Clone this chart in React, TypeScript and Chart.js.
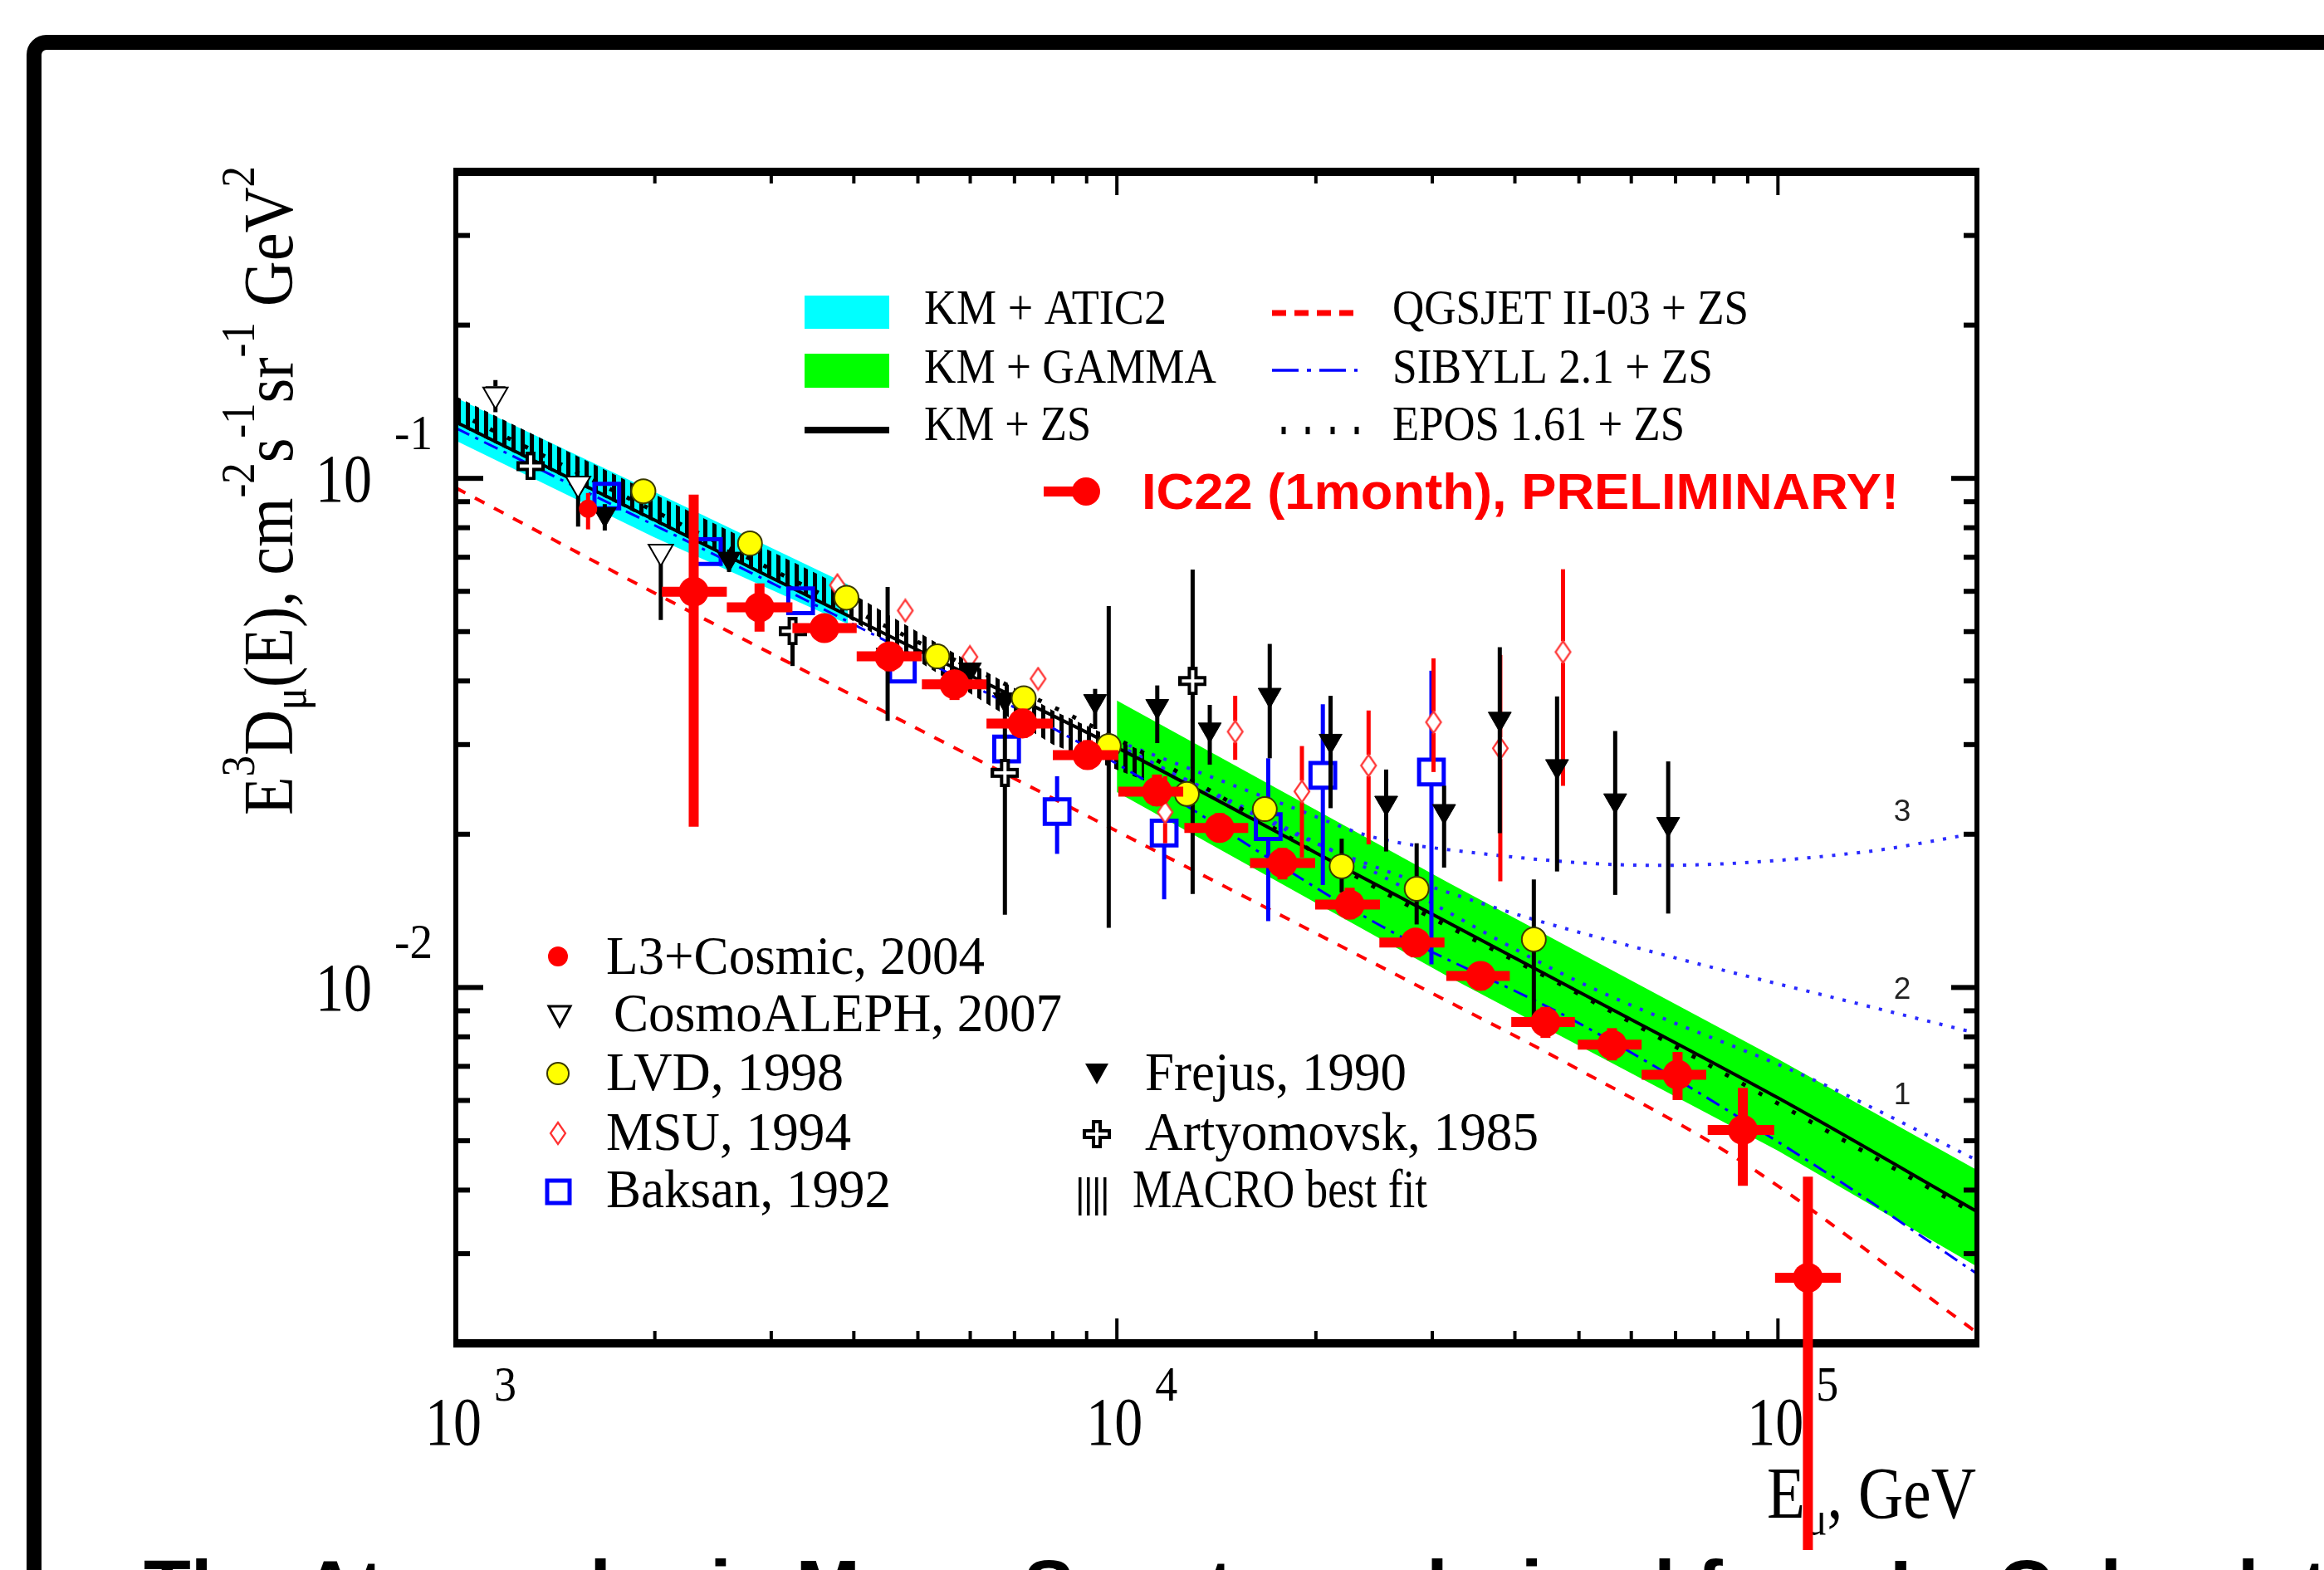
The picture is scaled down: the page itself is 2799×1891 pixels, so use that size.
import React, { useEffect, useRef } from 'react';
import { Chart, registerables } from 'chart.js';

Chart.register(...registerables);

const SERIF = '"Liberation Serif", "DejaVu Serif", serif';
const SANS = '"Liberation Sans", Arial, sans-serif';

// ---------------- axes ----------------
const xMin = 1000;
const xMax = 200000;
const yMin = 0.002;
const yMax = 0.4;
const xMajorTicks = [1000, 10000, 100000];
const xMajorExp = ['3', '4', '5'];
const yMajorTicks = [0.1, 0.01];
const yMajorExp = ['-1', '-2'];

// ---------------- model bands / curves ----------------
const kmAtic2E = [1000, 2000, 3920];
const kmAtic2Hi = [0.144, 0.094, 0.0619];
const kmAtic2Lo = [0.1186, 0.0765, 0.0517];

const kmGammaE = [10000, 31623, 100000, 200000];
const kmGammaHi = [0.0366, 0.0161, 0.00724, 0.00438];
const kmGammaLo = [0.0242, 0.01053, 0.00478, 0.00283];

const macroE = [1000, 2000, 3600, 8000, 11000];
const macroHi = [0.145, 0.093, 0.064, 0.035, 0.029];
const macroLo = [0.128, 0.082, 0.057, 0.030, 0.0255];

const kmZsE = [1000, 2000, 3162, 5000, 10000, 20000, 31623, 50000, 100000, 200000];
const kmZsFlux = [0.129, 0.0828, 0.0617, 0.046, 0.0296, 0.01839, 0.01343, 0.0098, 0.00607, 0.00363];

const qgsE = [1000, 2000, 5700, 28000, 51000, 87000, 200000];
const qgsFlux = [0.0958, 0.0595, 0.0295, 0.0102, 0.0068, 0.0046, 0.0021];

const sibE = [1000, 3900, 10000, 25000, 50000, 113000, 200000];
const sibFlux = [0.1255, 0.0525, 0.0275, 0.01325, 0.00851, 0.0045, 0.00274];

const eposE = [1000, 5000, 10700, 25600, 50800, 200000];
const eposFlux = [0.135, 0.0477, 0.0294, 0.01528, 0.0096, 0.00358];

const prompt1E = [10000, 24200, 49900, 114600, 200000];
const prompt1Flux = [0.0298, 0.017, 0.01027, 0.00654, 0.00458];
const prompt2E = [10000, 20000, 37400, 66700, 134600, 200000];
const prompt2Flux = [0.03, 0.0192, 0.01434, 0.01162, 0.00924, 0.00813];
const prompt3E = [10000, 18700, 24200, 32300, 65600, 135000, 200000];
const prompt3Flux = [0.0305, 0.0224, 0.0198, 0.0186, 0.01737, 0.01846, 0.0201];

// ---------------- measurements ----------------
const ic22E = [2290, 2880, 3610, 4530, 5680, 7200, 9030, 11500, 14300, 17800, 22500, 28300, 35500, 44500, 56100, 70500, 88500, 111000];
const ic22Flux = [0.0599, 0.0558, 0.0508, 0.0447, 0.0394, 0.033, 0.0286, 0.02425, 0.02057, 0.01756, 0.01455, 0.01225, 0.01054, 0.00855, 0.00772, 0.00674, 0.00525, 0.00269];
const ic22Lo = [0.0207, 0.05, 0.048, 0.0418, 0.0367, 0.0309, 0.0268, 0.0227, 0.0194, 0.0163, 0.01361, 0.01146, 0.00986, 0.00796, 0.00719, 0.00601, 0.00408, 0.000785];
const ic22Hi = [0.0929, 0.0622, 0.0538, 0.0475, 0.0414, 0.0353, 0.0306, 0.0262, 0.022, 0.0188, 0.0157, 0.01302, 0.0112, 0.00916, 0.00832, 0.00747, 0.00635, 0.00425];
const ic22ELo = [2050, 2570, 3230, 4040, 5070, 6350, 8000, 10050, 12650, 15900, 19950, 24950, 31500, 39500, 49800, 62200, 78300, 99000];
const ic22EHi = [2570, 3230, 4040, 5070, 6350, 8000, 10050, 12600, 15800, 19950, 25000, 31300, 39300, 49300, 62200, 77900, 98700, 124500];

const l3E = [1585];
const l3Flux = [0.0872];
const l3Lo = [0.0794];
const l3Hi = [0.0936];

const cosmoE = [1148, 1531, 2042];
const cosmoFlux = [0.1461, 0.0977, 0.0718];
const cosmoLo = [0.1349, 0.0804, 0.0527];
const cosmoHi = [0.156, 0.1012, 0.0738];

const lvdE = [1922, 2786, 3899, 5350, 7230, 9720, 12760, 16740, 21880, 28410, 42730];
const lvdFlux = [0.0943, 0.0745, 0.0583, 0.0447, 0.037, 0.0298, 0.024, 0.0224, 0.0173, 0.01563, 0.01243];
const lvdLo = [null, null, null, null, null, 0.0131, null, null, 0.01537, 0.0133, 0.0087];
const lvdHi = [null, null, null, null, null, 0.0561, null, null, 0.0196, 0.0192, 0.0163];

const msuE = [3777, 4786, 5993, 7600, 11830, 15100, 19050, 24030, 30130, 38020, 47300];
const msuFlux = [0.0617, 0.055, 0.0446, 0.0404, 0.0221, 0.0318, 0.02427, 0.02729, 0.0332, 0.0295, 0.0456];
const msuLo = [null, null, null, 0.0386, 0.0192, 0.028, 0.018, 0.0191, 0.0265, 0.01617, 0.0249];
const msuHi = [null, null, null, 0.0423, 0.026, 0.0374, 0.0298, 0.035, 0.0443, 0.045, 0.0663];

const baksanE = [1692, 2410, 3323, 4737, 6810, 8120, 11790, 16940, 20490, 29910];
const baksanFlux = [0.0923, 0.0718, 0.0575, 0.0422, 0.0294, 0.02216, 0.0201, 0.0207, 0.0261, 0.0265];
const baksanLo = [null, null, null, null, null, 0.0183, 0.0149, 0.0135, 0.0159, 0.0111];
const baksanHi = [null, null, null, null, null, 0.026, 0.0227, 0.0282, 0.036, 0.0419];

const frejusE = [1680, 2590, 4500, 5993, 6767, 9270, 11510, 13820, 17030, 21050, 25550, 31260, 37950, 46330, 56730, 68230];
const frejusFlux = [0.085, 0.0695, 0.045, 0.0421, 0.0368, 0.0365, 0.0357, 0.0321, 0.03755, 0.0305, 0.02305, 0.0222, 0.0337, 0.0272, 0.0233, 0.02094];
const frejusLo = [0.079, 0.0655, 0.0334, null, null, 0.0322, 0.0302, 0.0274, 0.0282, 0.0225, 0.0185, 0.0172, 0.0201, 0.0169, 0.0152, 0.01397];
const frejusHi = [0.089, 0.0725, 0.0612, null, null, 0.0386, 0.0392, 0.0359, 0.0473, 0.0374, 0.0268, 0.0249, 0.0466, 0.0373, 0.0319, 0.0278];

const artE = [1297, 3231, 6770, 13020];
const artFlux = [0.1057, 0.0501, 0.0264, 0.04];
const artLo = [null, 0.0428, 0.0139, 0.01526];
const artHi = [null, 0.0532, 0.0373, 0.0662];

// ---------------- helpers ----------------
const pts = (xs: number[], ys: number[]) => xs.map((x, i) => ({ x, y: ys[i] }));

type ErrSpec = {
  xs: number[]; ys: number[];
  lo?: (number | null)[]; hi?: (number | null)[];
  xlo?: number[]; xhi?: number[];
  color: string; width: number; gap?: number; cap?: number; top?: boolean;
};

function drawErr(chart: any, s: ErrSpec) {
  const ctx = chart.ctx;
  const xs = chart.scales.x;
  const ys = chart.scales.y;
  ctx.save();
  ctx.strokeStyle = s.color;
  ctx.lineWidth = s.width;
  ctx.lineCap = 'butt';
  for (let i = 0; i < s.xs.length; i++) {
    const px = xs.getPixelForValue(s.xs[i]);
    const py = ys.getPixelForValue(s.ys[i]);
    const g = s.gap || 0;
    const lo = s.lo ? s.lo[i] : null;
    const hi = s.hi ? s.hi[i] : null;
    if (hi != null) {
      const ph = ys.getPixelForValue(hi);
      if (ph < py - g) {
        ctx.beginPath(); ctx.moveTo(px, ph); ctx.lineTo(px, py - g); ctx.stroke();
        if (s.cap) { ctx.beginPath(); ctx.moveTo(px - s.cap / 2, ph + 10); ctx.lineTo(px + s.cap / 2, ph + 10); ctx.stroke(); }
      }
    }
    if (lo != null) {
      const pl = ys.getPixelForValue(lo);
      if (pl > py + g) { ctx.beginPath(); ctx.moveTo(px, py + g); ctx.lineTo(px, pl); ctx.stroke(); }
    }
    if (s.xlo && s.xhi) {
      const pa = xs.getPixelForValue(s.xlo[i]);
      const pb = xs.getPixelForValue(s.xhi[i]);
      ctx.beginPath(); ctx.moveTo(pa, py); ctx.lineTo(pb, py); ctx.stroke();
    }
  }
  ctx.restore();
}

function drawScaled(ctx: CanvasRenderingContext2D, text: string, x: number, y: number, font: string, width: number, align: 'left' | 'center' | 'right' = 'left') {
  ctx.font = font;
  const w = ctx.measureText(text).width;
  let x0 = x;
  if (align === 'center') x0 = x - width / 2;
  if (align === 'right') x0 = x - width;
  ctx.save();
  ctx.translate(x0, y);
  ctx.scale(width / w, 1);
  ctx.textAlign = 'left';
  ctx.textBaseline = 'alphabetic';
  ctx.fillText(text, 0, 0);
  ctx.restore();
}

type Seg = [string, number, number];
function drawRich(ctx: CanvasRenderingContext2D, segs: Seg[], x: number, y: number, length: number, rot: number, family: string) {
  let total = 0;
  const ws = segs.map(([t, s]) => { ctx.font = `${s}px ${family}`; const w = ctx.measureText(t).width; total += w; return w; });
  ctx.save();
  ctx.translate(x, y);
  ctx.rotate(rot);
  ctx.scale(length / total, 1);
  ctx.textAlign = 'left';
  ctx.textBaseline = 'alphabetic';
  let cx = 0;
  segs.forEach(([t, s, dy], i) => { ctx.font = `${s}px ${family}`; ctx.fillText(t, cx, dy); cx += ws[i]; });
  ctx.restore();
}

function makeCross() {
  const c = document.createElement('canvas');
  c.width = 34; c.height = 34;
  const g = c.getContext('2d')!;
  g.fillStyle = '#000';
  g.fillRect(11, 0, 12, 34);
  g.fillRect(0, 11, 34, 12);
  g.fillStyle = '#fff';
  g.fillRect(15, 4, 4, 26);
  g.fillRect(4, 15, 26, 4);
  return c;
}

function makeDiamond() {
  const c = document.createElement('canvas');
  c.width = 22; c.height = 30;
  const g = c.getContext('2d')!;
  g.beginPath();
  g.moveTo(11, 2); g.lineTo(20, 15); g.lineTo(11, 28); g.lineTo(2, 15); g.closePath();
  g.fillStyle = '#fff'; g.fill();
  g.strokeStyle = '#ff3030'; g.lineWidth = 2.2; g.stroke();
  return c;
}

export default function App() {
  const ref = useRef<HTMLCanvasElement>(null);

  useEffect(() => {
    const canvas = ref.current!;
    const cross = makeCross();
    const diamond = makeDiamond();
    const pc = document.createElement('canvas');
    pc.width = 11; pc.height = 11;
    const pg = pc.getContext('2d')!;
    pg.fillStyle = '#000';
    pg.fillRect(0, 0, 5, 11);
    const hatch = canvas.getContext('2d')!.createPattern(pc, 'repeat');

    const errs: Record<string, ErrSpec> = {
      'L3+Cosmic, 2004': { xs: l3E, ys: l3Flux, lo: l3Lo, hi: l3Hi, color: '#ff0000', width: 5 },
      'CosmoALEPH, 2007': { xs: cosmoE, ys: cosmoFlux, lo: cosmoLo, hi: cosmoHi, color: '#000', width: 5, cap: 24, gap: 10 },
      'LVD, 1998': { xs: lvdE, ys: lvdFlux, lo: lvdLo, hi: lvdHi, color: '#000', width: 5 },
      'MSU, 1994': { xs: msuE, ys: msuFlux, lo: msuLo, hi: msuHi, color: '#ff0000', width: 5, gap: 13 },
      'Baksan, 1992': { xs: baksanE, ys: baksanFlux, lo: baksanLo, hi: baksanHi, color: '#0000ff', width: 5, gap: 15 },
      'Frejus, 1990': { xs: frejusE, ys: frejusFlux, lo: frejusLo, hi: frejusHi, color: '#000', width: 5 },
      'Artyomovsk, 1985': { xs: artE, ys: artFlux, lo: artLo, hi: artHi, color: '#000', width: 5, gap: 14 },
      'IC22 (1month), PRELIMINARY!': { xs: ic22E, ys: ic22Flux, lo: ic22Lo, hi: ic22Hi, xlo: ic22ELo, xhi: ic22EHi, color: '#ff0000', width: 12, top: true },
    };

    const curve = (label: string, xs: number[], ys: number[], color: string, width: number, dash: number[], order: number) => ({
      label, data: pts(xs, ys), borderColor: color, borderWidth: width, borderDash: dash,
      pointRadius: 0, fill: false, cubicInterpolationMode: 'monotone', order, borderCapStyle: 'butt',
    });
    const bandEdge = (label: string, xs: number[], ys: number[], fill: any, bg: any, order: number) => ({
      label, data: pts(xs, ys), borderWidth: 0, pointRadius: 0, fill, backgroundColor: bg, order, tension: 0,
    });
    const marks = (label: string, xs: number[], ys: number[], o: any, order: number) => ({
      label, data: pts(xs, ys), showLine: false, order, pointHoverRadius: 0, ...o,
    });

    const datasets: any[] = [
      bandEdge('KM + ATIC2', kmAtic2E, kmAtic2Hi, '+1', '#00ffff', 100),
      bandEdge('KM + ATIC2 low', kmAtic2E, kmAtic2Lo, false, 'rgba(0,0,0,0)', 99),
      bandEdge('KM + GAMMA', kmGammaE, kmGammaHi, '+1', '#00ff00', 98),
      bandEdge('KM + GAMMA low', kmGammaE, kmGammaLo, false, 'rgba(0,0,0,0)', 97),
      bandEdge('MACRO best fit', macroE, macroHi, '+1', hatch, 96),
      bandEdge('MACRO low', macroE, macroLo, false, 'rgba(0,0,0,0)', 95),
      curve('prompt 3', prompt3E, prompt3Flux, '#2a2aff', 4, [4, 11], 62),
      curve('prompt 2', prompt2E, prompt2Flux, '#2a2aff', 4, [4, 11], 61),
      curve('prompt 1', prompt1E, prompt1Flux, '#2a2aff', 4, [4, 11], 60),
      curve('SIBYLL 2.1 + ZS', sibE, sibFlux, '#0000ff', 3, [18, 8, 4, 8], 55),
      curve('QGSJET II-03 + ZS', qgsE, qgsFlux, '#ff0000', 4, [13, 13], 54),
      curve('KM + ZS', kmZsE, kmZsFlux, '#000000', 4, [], 53),
      curve('EPOS 1.61 + ZS', eposE, eposFlux, '#000000', 5, [5, 18], 52),
      marks('Baksan, 1992', baksanE, baksanFlux, { pointStyle: 'rect', pointRadius: 21, pointBorderWidth: 5, pointBorderColor: '#0000ff', pointBackgroundColor: 'rgba(0,0,0,0)' }, 30),
      marks('MSU, 1994', msuE, msuFlux, { pointStyle: diamond, pointRadius: 10 }, 29),
      marks('Artyomovsk, 1985', artE, artFlux, { pointStyle: cross, pointRadius: 10 }, 28),
      marks('CosmoALEPH, 2007', cosmoE, cosmoFlux, { pointStyle: 'triangle', pointRotation: 180, pointRadius: 17, pointBorderWidth: 2, pointBorderColor: '#000', pointBackgroundColor: '#fff' }, 27),
      marks('Frejus, 1990', frejusE, frejusFlux, { pointStyle: 'triangle', pointRotation: 180, pointRadius: 16, pointBorderWidth: 1, pointBorderColor: '#000', pointBackgroundColor: '#000' }, 26),
      marks('LVD, 1998', lvdE, lvdFlux, { pointStyle: 'circle', pointRadius: 14.5, pointBorderWidth: 2, pointBorderColor: '#3a3a00', pointBackgroundColor: '#ffff00' }, 25),
      marks('L3+Cosmic, 2004', l3E, l3Flux, { pointStyle: 'circle', pointRadius: 11, pointBorderWidth: 0, pointBackgroundColor: '#ff0000' }, 24),
      marks('IC22 (1month), PRELIMINARY!', ic22E, ic22Flux, { pointStyle: 'circle', pointRadius: 18, pointBorderWidth: 0, pointBackgroundColor: '#ff0000' }, 0),
    ];

    const plugin = {
      id: 'muonDecor',
      beforeDraw(chart: any) {
        const ctx: CanvasRenderingContext2D = chart.ctx;
        ctx.save();
        ctx.fillStyle = '#fff';
        ctx.fillRect(0, 0, chart.width, chart.height);
        // slide frame
        ctx.strokeStyle = '#000';
        ctx.lineWidth = 18;
        ctx.beginPath();
        ctx.moveTo(41, chart.height + 30);
        ctx.lineTo(41, 66);
        ctx.arcTo(41, 51, 56, 51, 15);
        ctx.lineTo(chart.width + 30, 51);
        ctx.stroke();
        // slide caption (cut by the bottom edge)
        ctx.fillStyle = '#000';
        ctx.font = `bold 93px ${SANS}`;
        ctx.textBaseline = 'alphabetic';
        ctx.textAlign = 'left';
        ctx.fillText('The Atmospheric Muon Spectrum derived from IceCube data', 173, 1944);
        ctx.restore();
      },
      beforeDatasetsDraw(chart: any) {
        const ctx: CanvasRenderingContext2D = chart.ctx;
        const xs = chart.scales.x;
        const ys = chart.scales.y;
        const { left, bottom } = chart.chartArea;
        ctx.save();
        ctx.fillStyle = '#000';
        // tick labels
        xMajorTicks.forEach((v, i) => {
          const px = xs.getPixelForValue(v);
          drawScaled(ctx, '10', px - 3, bottom + 122, `82px ${SERIF}`, 68, 'center');
          drawScaled(ctx, xMajorExp[i], px + 46, bottom + 69, `60px ${SERIF}`, 27);
        });
        yMajorTicks.forEach((v, i) => {
          const py = ys.getPixelForValue(v);
          drawScaled(ctx, '10', left - 101, py + 28, `82px ${SERIF}`, 68, 'right');
          drawScaled(ctx, yMajorExp[i], left - 74, py - 35, `60px ${SERIF}`, 46);
        });
        // axis titles
        drawRich(ctx, [['E', 88, 0], ['\u03bc', 58, 20], [', GeV', 88, 0]], 2128, 1828, 252, 0, SERIF);
        drawRich(ctx, [
          ['E', 84, 0], ['3', 56, -46], ['D', 84, 0], ['\u03bc', 56, 16], ['(E), cm', 84, 0], ['-2', 56, -46],
          ['s', 84, 0], ['-1', 56, -46], ['sr', 84, 0], ['-1', 56, -46], [' GeV', 84, 0], ['2', 56, -46],
        ], 352, 982, 782, -Math.PI / 2, SERIF);

        // curve labels 1 2 3
        ctx.fillStyle = '#222';
        ctx.font = `37px ${SANS}`;
        ctx.textAlign = 'center';
        ctx.fillText('3', 2291, 989);
        ctx.fillText('2', 2291, 1203);
        ctx.fillText('1', 2291, 1330);
        ctx.textAlign = 'left';

        // ---- top legend ----
        const f1 = `60px ${SERIF}`;
        ctx.fillStyle = '#00ffff'; ctx.fillRect(969, 356, 102, 40);
        ctx.fillStyle = '#00ff00'; ctx.fillRect(969, 426, 102, 41);
        ctx.fillStyle = '#000'; ctx.fillRect(969, 514, 102, 8);
        drawScaled(ctx, 'KM + ATIC2', 1113, 390, f1, 292);
        drawScaled(ctx, 'KM + GAMMA', 1113, 461, f1, 352);
        drawScaled(ctx, 'KM + ZS', 1113, 530, f1, 201);
        ctx.strokeStyle = '#ff0000'; ctx.lineWidth = 7; ctx.setLineDash([17, 10]);
        ctx.beginPath(); ctx.moveTo(1532, 377); ctx.lineTo(1635, 377); ctx.stroke();
        ctx.strokeStyle = '#0000ff'; ctx.lineWidth = 3.5; ctx.setLineDash([32, 10, 5, 10]);
        ctx.beginPath(); ctx.moveTo(1532, 446); ctx.lineTo(1635, 446); ctx.stroke();
        ctx.setLineDash([]);
        ctx.fillStyle = '#000';
        [1546, 1575, 1605, 1634].forEach((x) => ctx.fillRect(x - 2.5, 514, 5, 9));
        drawScaled(ctx, 'QGSJET II-03 + ZS', 1677, 390, f1, 429);
        drawScaled(ctx, 'SIBYLL 2.1 + ZS', 1677, 461, f1, 386);
        drawScaled(ctx, 'EPOS 1.61 + ZS', 1677, 530, f1, 352);
        // IC22 legend
        ctx.fillStyle = '#ff0000';
        ctx.fillRect(1257, 586, 60, 12);
        ctx.beginPath(); ctx.arc(1308, 592, 17, 0, Math.PI * 2); ctx.fill();
        drawScaled(ctx, 'IC22 (1month), PRELIMINARY!', 1375, 613, `bold 62px ${SANS}`, 912);

        // ---- bottom legend ----
        const f2 = `66px ${SERIF}`;
        ctx.fillStyle = '#000';
        drawScaled(ctx, 'L3+Cosmic, 2004', 730, 1173, f2, 456);
        drawScaled(ctx, 'CosmoALEPH, 2007', 739, 1242, f2, 540);
        drawScaled(ctx, 'LVD, 1998', 730, 1313, f2, 286);
        drawScaled(ctx, 'MSU, 1994', 730, 1385, f2, 295);
        drawScaled(ctx, 'Baksan, 1992', 730, 1454, f2, 343);
        drawScaled(ctx, 'Frejus, 1990', 1379, 1313, f2, 315);
        drawScaled(ctx, 'Artyomovsk, 1985', 1379, 1385, f2, 474);
        drawScaled(ctx, 'MACRO best fit', 1364, 1454, f2, 355);
        // markers
        ctx.fillStyle = '#ff0000';
        ctx.beginPath(); ctx.arc(672, 1152, 12, 0, Math.PI * 2); ctx.fill();
        ctx.strokeStyle = '#000'; ctx.lineWidth = 3; ctx.fillStyle = '#fff';
        ctx.beginPath(); ctx.moveTo(661, 1212); ctx.lineTo(687, 1212); ctx.lineTo(674, 1236); ctx.closePath(); ctx.fill(); ctx.stroke();
        ctx.fillStyle = '#ffff00'; ctx.strokeStyle = '#3a3a00'; ctx.lineWidth = 2;
        ctx.beginPath(); ctx.arc(672, 1293, 13, 0, Math.PI * 2); ctx.fill(); ctx.stroke();
        ctx.drawImage(diamond, 672 - 11, 1365 - 15);
        ctx.strokeStyle = '#0000ff'; ctx.lineWidth = 5;
        ctx.strokeRect(659, 1422, 27, 27);
        ctx.fillStyle = '#000';
        ctx.beginPath(); ctx.moveTo(1307, 1281); ctx.lineTo(1335, 1281); ctx.lineTo(1321, 1306); ctx.closePath(); ctx.fill();
        ctx.drawImage(cross, 1321 - 17, 1366 - 17);
        [1299, 1309, 1319, 1329].forEach((x) => ctx.fillRect(x, 1418, 3.5, 46));
        ctx.restore();
      },
      beforeDatasetDraw(chart: any, args: any) {
        const ds = chart.data.datasets[args.index];
        const s = errs[ds.label];
        if (s && !s.top) drawErr(chart, s);
      },
      afterDatasetsDraw(chart: any) {
        const ctx: CanvasRenderingContext2D = chart.ctx;
        const xs = chart.scales.x;
        const ys = chart.scales.y;
        const { left, right, top, bottom } = chart.chartArea;
        ctx.save();
        ctx.fillStyle = '#000';
        ctx.fillRect(left - 3, top - 5, right - left + 6, 10);
        ctx.fillRect(left - 3, bottom - 5, right - left + 6, 10);
        ctx.fillRect(left - 3, top - 5, 6, bottom - top + 10);
        ctx.fillRect(right - 3, top - 5, 6, bottom - top + 10);
        for (const d of [1000, 10000, 100000]) {
          for (let m = 1; m <= 9; m++) {
            const v = d * m;
            if (v <= xMin || v >= xMax) continue;
            const px = xs.getPixelForValue(v);
            const L = m === 1 ? 25 : 10;
            ctx.fillRect(px - 2, bottom - 5 - L, 4, L);
            ctx.fillRect(px - 2, top + 5, 4, m === 1 ? 23 : 9);
          }
        }
        for (const d of [0.001, 0.01, 0.1]) {
          for (let m = 1; m <= 9; m++) {
            const v = d * m;
            if (v <= yMin * 1.001 || v >= yMax * 0.999) continue;
            const py = ys.getPixelForValue(v);
            const Ll = m === 1 ? 30 : 14;
            const Lr = m === 1 ? 28 : 13;
            ctx.fillRect(left + 3, py - 3, Ll, 6);
            ctx.fillRect(right - 3 - Lr, py - 3, Lr, 6);
          }
        }
        ctx.restore();
        drawErr(chart, errs['IC22 (1month), PRELIMINARY!']);
      },
    };

    const chart = new Chart(canvas, {
      type: 'line',
      data: { datasets },
      options: {
        animation: false,
        responsive: false,
        devicePixelRatio: 1,
        events: [],
        layout: { padding: { left: 549, right: 418, top: 207, bottom: 273 } },
        plugins: { legend: { display: false }, tooltip: { enabled: false }, title: { display: false } },
        scales: {
          x: { type: 'logarithmic', min: xMin, max: xMax, display: false },
          y: { type: 'logarithmic', min: yMin, max: yMax, display: false },
        },
      } as any,
      plugins: [plugin as any],
    } as any);

    return () => chart.destroy();
  }, []);

  return (
    <div style={{ position: 'fixed', left: 0, top: 0, width: 2799, height: 1891, background: '#fff' }}>
      <canvas ref={ref} width={2799} height={1891} style={{ display: 'block', width: 2799, height: 1891 }} />
    </div>
  );
}
